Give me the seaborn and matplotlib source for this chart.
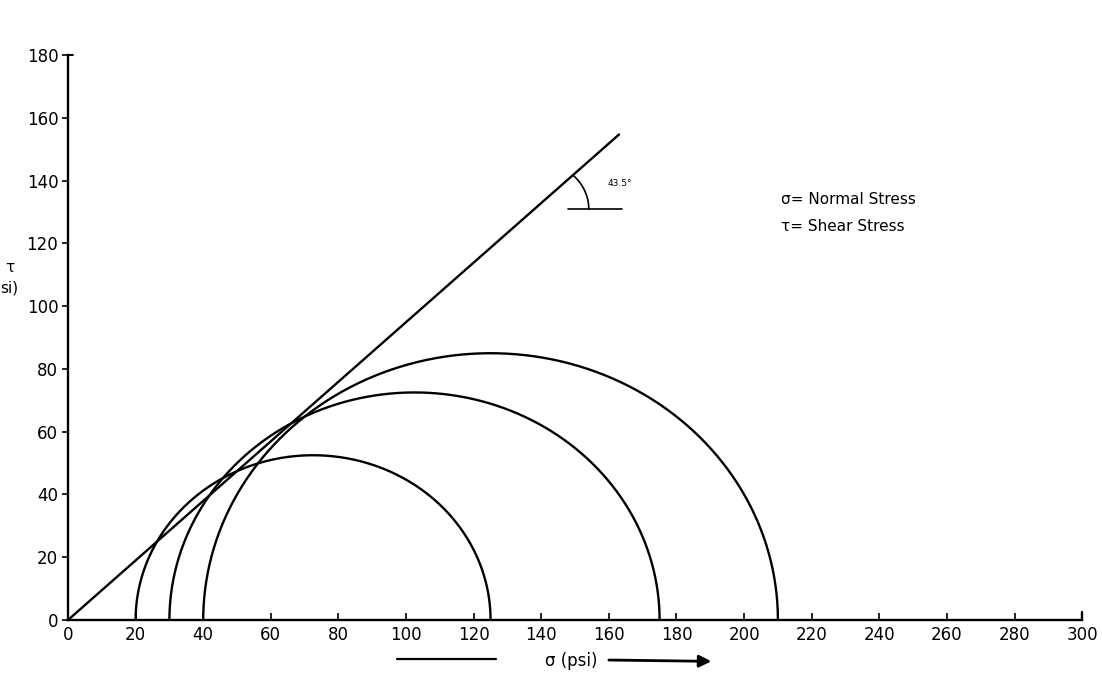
import numpy as np
import pandas as pd
import matplotlib
matplotlib.use("Agg")
import matplotlib.pyplot as plt
import seaborn as sns

# Mohr circles: minor / major principal stress (psi)
sigma3 = [20, 30, 40]
sigma1 = [125, 175, 210]

# failure envelope
phi_deg = 43.5
envelope_x = [0, 163]

x_ticks = list(range(0, 301, 20))
y_ticks = list(range(0, 181, 20))

sns.set_style("ticks", {"axes.edgecolor": "black", "xtick.color": "black",
                        "ytick.color": "black", "text.color": "black"})
plt.rcParams['font.family'] = ['DejaVu Sans']

fig = plt.figure(figsize=(11.02, 6.94), dpi=100)
ax = fig.add_axes([0.0617, 0.1066, 0.9203, 0.8141])

# build circles table
rows = []
theta = np.linspace(0, np.pi, 300)
for i, (s3, s1) in enumerate(zip(sigma3, sigma1)):
    c = (s1 + s3) / 2
    r = (s1 - s3) / 2
    for t in theta:
        rows.append({"circle": i, "sigma": c + r * np.cos(t), "tau": r * np.sin(t)})
circles = pd.DataFrame(rows)

sns.lineplot(data=circles, x="sigma", y="tau", units="circle", estimator=None,
             sort=False, color="black", lw=1.7, ax=ax)

m = np.tan(np.radians(phi_deg))
env = pd.DataFrame({"sigma": envelope_x, "tau": [m * x for x in envelope_x]})
sns.lineplot(data=env, x="sigma", y="tau", color="black", lw=1.7, ax=ax)

# angle marker
ax.plot([148, 164], [131, 131], color="black", lw=1.2)
x0 = 131 / m
arc_t = np.linspace(0, np.radians(phi_deg), 50)
ax.plot(x0 + 16 * np.cos(arc_t), 131 + 16 * np.sin(arc_t) * 0.95, color="black", lw=1.2)
ax.text(159.5, 139, "43.5°", fontsize=6.5, ha="left", va="center", color="black")

ax.text(211, 134, "σ= Normal Stress", fontsize=11, ha="left", va="center", color="black")
ax.text(211, 125.5, "τ= Shear Stress", fontsize=11, ha="left", va="center", color="black")

ax.set_xlim(0, 300)
ax.set_ylim(0, 180)
ax.set_xticks(x_ticks)
ax.set_yticks(y_ticks)
ax.tick_params(axis="x", direction="in", length=5, width=1.2, labelsize=12, pad=4,
               colors="black")
ax.tick_params(axis="y", direction="out", length=4, width=1.2, labelsize=12, pad=3,
               colors="black")
ax.set_xlabel("")
ax.set_ylabel("")
sns.despine(ax=ax)
for s in ["left", "bottom"]:
    ax.spines[s].set_linewidth(1.7)
    ax.spines[s].set_color("black")
ax.plot([300, 300], [0, 2.5], color="black", lw=1.7, clip_on=False)
ax.plot([0, 1.5], [180, 180], color="black", lw=1.4, clip_on=False)

# axis titles
fig.text(0.005, 0.615, "τ", fontsize=11, ha="left", va="center", color="black")
fig.text(0.0, 0.585, "si)", fontsize=11, ha="left", va="center", color="black")
fig.text(0.518, 0.047, "σ (psi)", fontsize=12, ha="center", va="center", color="black")
fig.add_artist(plt.Line2D([0.36, 0.45], [0.05, 0.05], color="black", lw=1.6))
ax.annotate("", xy=(0.648, 0.047), xytext=(0.55, 0.049), xycoords="figure fraction",
            arrowprops=dict(arrowstyle="-|>", color="black", lw=2, mutation_scale=18))

fig.savefig("out.png", dpi=100, facecolor="white")
